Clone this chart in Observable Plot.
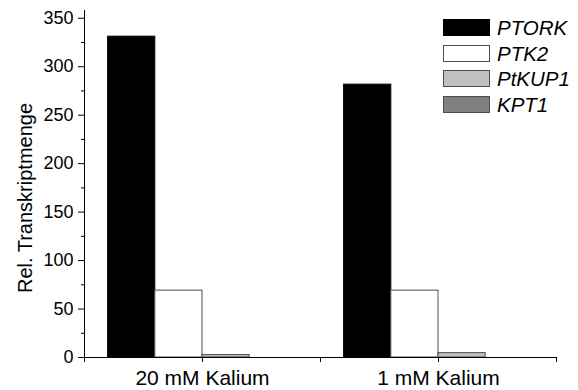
<!DOCTYPE html>
<html>
<head>
<meta charset="utf-8">
<script src="https://cdn.jsdelivr.net/npm/d3@7"></script>
<script src="https://cdn.jsdelivr.net/npm/@observablehq/plot@0.6"></script>
<style>
  html, body { margin: 0; padding: 0; background: #fff; }
  #wrap { position: relative; width: 578px; height: 390px; font-family: "Liberation Sans", Arial, sans-serif; }
  #ylabel { position: absolute; left: 25px; top: 198px; transform: translate(-50%, -50%) rotate(-90deg); white-space: nowrap; font-size: 20px; color: #000; }
  #legend { position: absolute; left: 443px; top: 19px; }
  .row { height: 25.5px; display: flex; align-items: flex-start; }
  .sw { width: 47px; height: 17px; box-sizing: border-box; border: 1px solid #4d4d4d; }
  .lab { font-style: italic; font-size: 20.5px; margin-left: 7px; line-height: 17px; color: #000; }
</style>
</head>
<body>
<div id="wrap"></div>
<script>
const categories = ["20 mM Kalium", "1 mM Kalium"];
const series = ["PTORK", "PTK2", "PtKUP1", "KPT1"];
const PTORK = [331, 281.5];
const PTK2 = [69, 69];
const PtKUP1 = [2.5, 4.5];
const KPT1 = [0, 0];
const colors = ["#000000", "#ffffff", "#c0c0c0", "#808080"];
const edges = ["#000000", "#4d4d4d", "#4d4d4d", "#4d4d4d"];
const yTicks = [0, 50, 100, 150, 200, 250, 300, 350];
const yMinorTicks = [25, 75, 125, 175, 225, 275, 325];
const yLabel = "Rel. Transkriptmenge";

const values = {PTORK, PTK2, PtKUP1, KPT1};
const rows = [];
categories.forEach((c, i) => series.forEach((s, j) => rows.push({cat: c, series: s, value: values[s][i], i, j})));

const n = series.length;
const groupPad = 0.5; // in bar-widths on each side
const step = 1 / (n + 2 * groupPad);

const plot = Plot.plot({
  width: 578,
  height: 390,
  marginLeft: 84,
  marginRight: 22,
  marginTop: 10,
  marginBottom: 33,
  style: {fontFamily: "Liberation Sans, Arial, sans-serif", color: "#000", background: "#fff"},
  x: {domain: [0, categories.length], axis: null},
  y: {domain: [0, 358], axis: null},
  color: {domain: series, range: colors},
  marks: [
    Plot.rectY(rows, {
      x1: d => d.i + step * (groupPad + d.j),
      x2: d => d.i + step * (groupPad + d.j + 1),
      y1: 0,
      y2: "value",
      fill: "series",
      stroke: d => edges[d.j],
      strokeWidth: 1
    }),
    Plot.ruleY([0], {stroke: "#000"}),
    Plot.ruleX([0], {stroke: "#000"}),
    Plot.axisY({ticks: yTicks, tickSize: 6, tickPadding: 5, fontSize: 18, label: null}),
    Plot.axisY({ticks: yMinorTicks, tickSize: 3, tickFormat: () => "", label: null}),
    Plot.axisX({ticks: d3.range(0, categories.length + 1), tickSize: 5, tickFormat: () => "", label: null}),
    Plot.axisX({ticks: categories.map((c, i) => i + 0.5), tickSize: 5, tickPadding: 8, fontSize: 21,
      tickFormat: d => categories[Math.floor(d)], label: null})
  ]
});

const wrap = document.getElementById("wrap");
wrap.appendChild(plot);

const yl = document.createElement("div");
yl.id = "ylabel";
yl.textContent = yLabel;
wrap.appendChild(yl);

const legend = document.createElement("div");
legend.id = "legend";
series.forEach((s, k) => {
  const row = document.createElement("div");
  row.className = "row";
  const sw = document.createElement("div");
  sw.className = "sw";
  sw.style.background = colors[k];
  sw.style.borderColor = edges[k];
  const lab = document.createElement("span");
  lab.className = "lab";
  lab.textContent = s;
  row.appendChild(sw);
  row.appendChild(lab);
  legend.appendChild(row);
});
wrap.appendChild(legend);
</script>
</body>
</html>
